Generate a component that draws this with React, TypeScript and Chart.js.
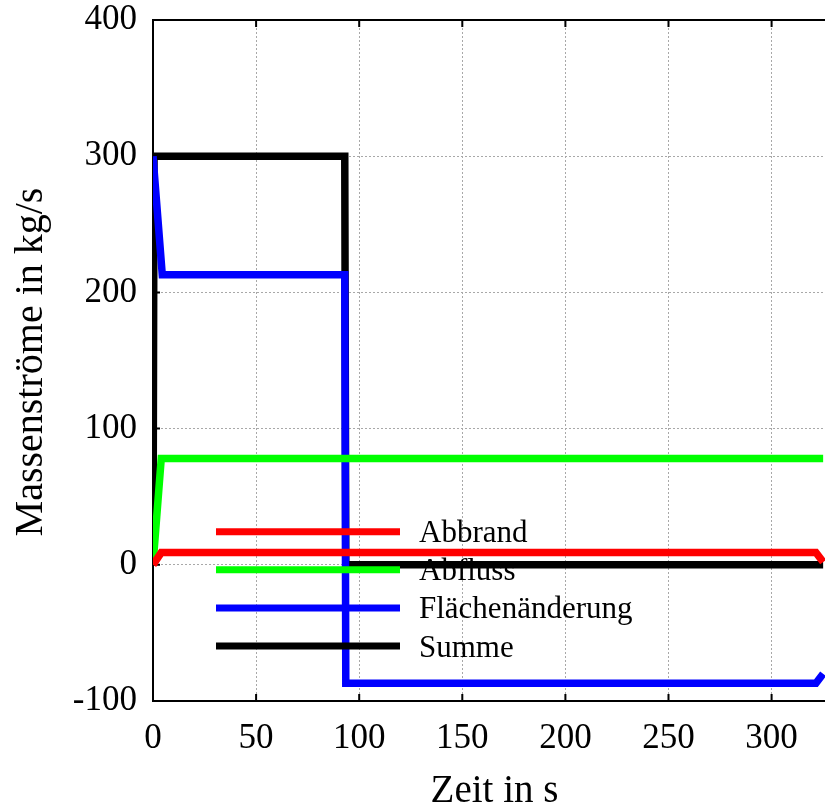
import React, { useEffect, useRef } from "react";
import { Chart, registerables } from "chart.js";

Chart.register(...registerables);

// Mass flow time series (time in s, mass flow in kg/s)
const abbrandZeit = [0, 4, 321.5, 325];
const abbrandWert = [0, 9, 9, 2];
const abflussZeit = [0, 4, 325];
const abflussWert = [0, 78, 78];
const flaecheZeit = [0, 4.5, 93, 93.5, 321.5, 325];
const flaecheWert = [300, 213, 213, -87, -87, -80];
const summeZeit = [0, 0.5, 93, 93.5, 325];
const summeWert = [0, 300, 300, 0, 0];

const xTicks = [0, 50, 100, 150, 200, 250, 300];
const yTicks = [-100, 0, 100, 200, 300, 400];

const seriesNames = ["Abbrand", "Abfluss", "Flächenänderung", "Summe"];
const seriesColors = ["#ff0000", "#00ff00", "#0000ff", "#000000"];

const xTitle = "Zeit in s";
const yTitle = "Massenströme in kg/s";

const FONT = "'Liberation Serif', 'Times New Roman', serif";

const toPoints = (xs: number[], ys: number[]) => xs.map((x, i) => ({ x, y: ys[i] }));

const decorations = {
  id: "decorations",
  beforeDatasetsDraw(chart: any) {
    const { ctx, chartArea } = chart;
    const { left, right, top, bottom } = chartArea;
    const xs = chart.scales.x;
    const ys = chart.scales.y;
    ctx.save();
    ctx.strokeStyle = "#000";
    ctx.lineWidth = 2;
    ctx.beginPath();
    ctx.moveTo(right + 2, top);
    ctx.lineTo(left, top);
    ctx.lineTo(left, bottom);
    ctx.lineTo(right + 2, bottom);
    ctx.stroke();
    // inward tick marks
    const tl = 7;
    ctx.beginPath();
    for (const v of yTicks) {
      const y = ys.getPixelForValue(v);
      ctx.moveTo(left, y);
      ctx.lineTo(left + tl, y);
    }
    for (const v of xTicks) {
      const x = xs.getPixelForValue(v);
      ctx.moveTo(x, bottom);
      ctx.lineTo(x, bottom - tl);
      ctx.moveTo(x, top);
      ctx.lineTo(x, top + tl);
    }
    ctx.stroke();
    ctx.restore();
  },
  afterDatasetsDraw(chart: any) {
    const { ctx, chartArea } = chart;
    const { left, top } = chartArea;
    ctx.save();
    ctx.font = `31px ${FONT}`;
    ctx.textAlign = "left";
    ctx.textBaseline = "alphabetic";
    ctx.fillStyle = "#000";
    seriesNames.forEach((name, i) => {
      const y = top + 511.7 + i * 38.1;
      ctx.strokeStyle = seriesColors[i];
      ctx.lineWidth = 7;
      ctx.lineCap = "butt";
      ctx.beginPath();
      ctx.moveTo(left + 63, y);
      ctx.lineTo(left + 247, y);
      ctx.stroke();
      ctx.fillText(name, left + 266, y + 10.5);
    });
    ctx.restore();
  },
  afterDraw(chart: any) {
    const { ctx } = chart;
    ctx.save();
    ctx.fillStyle = "#000";
    ctx.textAlign = "center";
    ctx.textBaseline = "alphabetic";
    ctx.font = `39px ${FONT}`;
    ctx.fillText(xTitle, 494.5, 802);
    ctx.translate(42, 362);
    ctx.rotate(-Math.PI / 2);
    ctx.font = `40px ${FONT}`;
    ctx.fillText(yTitle, 0, 0);
    ctx.restore();
  },
};

export default function App() {
  const ref = useRef<HTMLCanvasElement>(null);

  useEffect(() => {
    const canvas = ref.current!;
    const line = (label: string, xs: number[], ys: number[], color: string) => ({
      label,
      data: toPoints(xs, ys),
      borderColor: color,
      backgroundColor: color,
      borderWidth: 7.5,
      pointRadius: 0,
      tension: 0,
      fill: false,
      borderCapStyle: "butt" as const,
      borderJoinStyle: "miter" as const,
    });

    const chart = new Chart(canvas, {
      type: "line",
      data: {
        datasets: [
          line(seriesNames[0], abbrandZeit, abbrandWert, seriesColors[0]),
          line(seriesNames[1], abflussZeit, abflussWert, seriesColors[1]),
          line(seriesNames[2], flaecheZeit, flaecheWert, seriesColors[2]),
          line(seriesNames[3], summeZeit, summeWert, seriesColors[3]),
        ],
      },
      options: {
        animation: false,
        responsive: false,
        devicePixelRatio: 1,
        layout: { padding: { top: 20, right: 0, left: 0, bottom: 0 } },
        plugins: {
          legend: { display: false },
          tooltip: { enabled: false },
        },
        scales: {
          x: {
            type: "linear",
            min: 0,
            max: 325.9,
            afterBuildTicks: (scale: any) => {
              scale.ticks = xTicks.map((v) => ({ value: v }));
            },
            afterFit: (scale: any) => {
              scale.height = 106;
              scale.paddingLeft = 0;
              scale.paddingRight = 0;
            },
            ticks: {
              color: "#000",
              font: { family: FONT, size: 35 },
              padding: 17,
              maxRotation: 0,
              autoSkip: false,
            },
            grid: {
              color: "#a8a8a8",
              lineWidth: 1,
              drawTicks: false,
            },
            border: { display: false, dash: [2, 2] },
          },
          y: {
            type: "linear",
            min: -100,
            max: 400,
            afterBuildTicks: (scale: any) => {
              scale.ticks = yTicks.map((v) => ({ value: v }));
            },
            afterFit: (scale: any) => {
              scale.width = 153;
              scale.paddingTop = 0;
              scale.paddingBottom = 0;
            },
            ticks: {
              color: "#000",
              font: { family: FONT, size: 35 },
              padding: 16,
              autoSkip: false,
            },
            grid: {
              color: "#a8a8a8",
              lineWidth: 1,
              drawTicks: false,
            },
            border: { display: false, dash: [2, 2] },
          },
        },
      },
      plugins: [decorations],
    });

    return () => chart.destroy();
  }, []);

  return (
    <div style={{ position: "absolute", left: 0, top: 0, width: 825, height: 807 }}>
      <canvas ref={ref} width={825} height={807} style={{ display: "block", width: 825, height: 807 }} />
    </div>
  );
}
